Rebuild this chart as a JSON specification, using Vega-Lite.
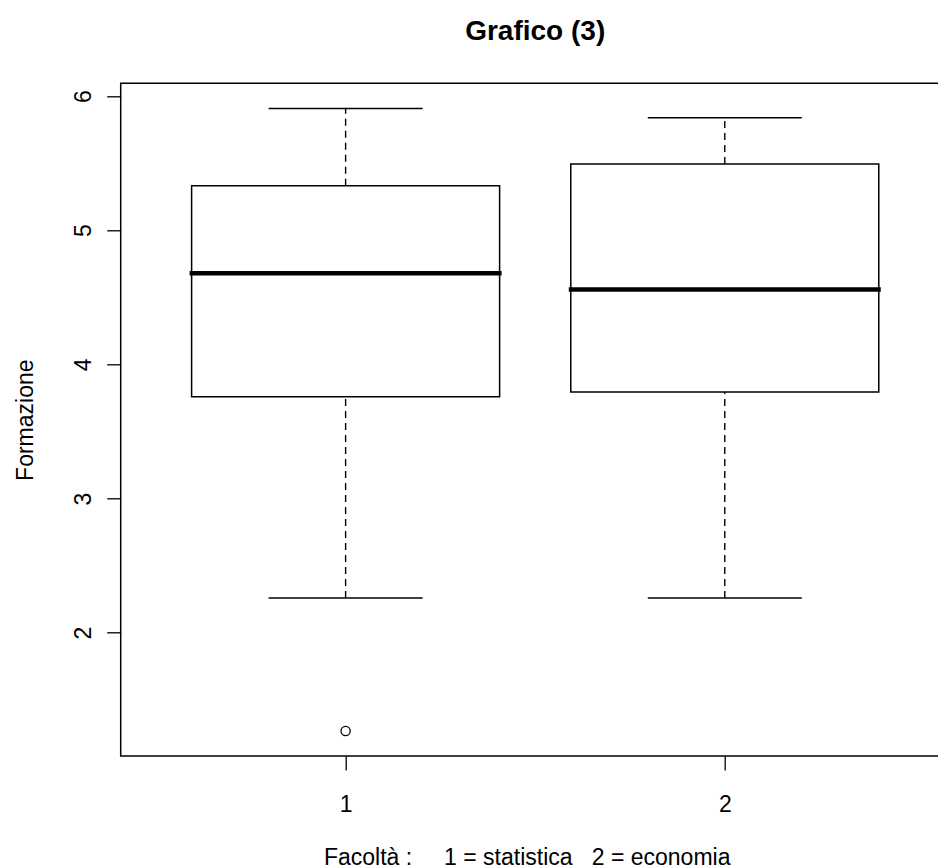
{
  "$schema": "https://vega.github.io/schema/vega-lite/v6.json",
  "autosize": "none",
  "padding": {"left": 120.7, "top": 83.3, "right": -11.7, "bottom": 112},
  "width": 829,
  "height": 672.7,
  "background": "white",
  "title": {
    "text": "Grafico (3)",
    "font": "Liberation Sans",
    "fontSize": 28,
    "fontWeight": "bold",
    "color": "black",
    "anchor": "middle",
    "frame": "group",
    "baseline": "alphabetic",
    "offset": 15
  },
  "config": {
    "view": {"stroke": "black", "strokeWidth": 1.5},
    "axis": {
      "domain": false,
      "grid": false,
      "labelFont": "Liberation Sans",
      "labelFontSize": 23,
      "labelColor": "black",
      "tickColor": "black",
      "tickWidth": 1.3,
      "tickSize": 14,
      "titleFont": "Liberation Sans",
      "titleFontSize": 23,
      "titleFontWeight": "normal",
      "titleColor": "black",
      "labelOverlap": false,
      "labelBound": false,
      "labelFlush": false
    }
  },
  "datasets": {
    "boxes": [
      {"g": 1, "lo": 2.259, "q1": 3.759, "med": 4.679, "q3": 5.331, "hi": 5.908},
      {"g": 2, "lo": 2.259, "q1": 3.794, "med": 4.559, "q3": 5.493, "hi": 5.838}
    ],
    "outliers": [
      {"g": 1, "v": 1.267}
    ]
  },
  "layer": [
    {
      "data": {"name": "boxes"},
      "mark": {"type": "rule", "color": "black", "strokeWidth": 1.4, "strokeDash": [7, 5]},
      "encoding": {
        "x": {
          "field": "g", "type": "quantitative",
          "scale": {"domain": [0.42, 2.58], "nice": false, "zero": false},
          "axis": {
            "values": [1, 2],
            "format": "d",
            "labelBaseline": "alphabetic",
            "labelPadding": 41,
            "title": "Facoltà :\u00a0\u00a0\u00a0\u00a0 1 = statistica\u00a0\u00a0 2 = economia",
            "titleX": 406,
            "titleY": 108,
            "titleAlign": "center",
            "titleBaseline": "alphabetic",
            "titleAnchor": null
          }
        },
        "y": {
          "field": "q3", "type": "quantitative",
          "scale": {"domain": [1.081, 6.095], "nice": false, "zero": false},
          "axis": {
            "values": [2, 3, 4, 5, 6],
            "format": "d",
            "labelAngle": -90,
            "labelAlign": "center",
            "labelBaseline": "alphabetic",
            "labelPadding": 16,
            "title": "Formazione",
            "titleAngle": -90,
            "titleX": -88.5,
            "titleY": 336.4,
            "titleAlign": "center",
            "titleBaseline": "alphabetic",
            "titleAnchor": null
          }
        },
        "y2": {"field": "hi"}
      }
    },
    {
      "data": {"name": "boxes"},
      "mark": {"type": "rule", "color": "black", "strokeWidth": 1.4, "strokeDash": [7, 5]},
      "encoding": {
        "x": {"field": "g", "type": "quantitative"},
        "y": {"field": "lo", "type": "quantitative"},
        "y2": {"field": "q1"}
      }
    },
    {
      "data": {"name": "boxes"},
      "mark": {"type": "bar", "width": 308, "fill": "white", "stroke": "black", "strokeWidth": 1.5},
      "encoding": {
        "x": {"field": "g", "type": "quantitative"},
        "y": {"field": "q1", "type": "quantitative"},
        "y2": {"field": "q3"}
      }
    },
    {
      "data": {"name": "boxes"},
      "mark": {"type": "tick", "orient": "horizontal", "color": "black", "size": 312, "thickness": 4.5, "opacity": 1},
      "encoding": {
        "x": {"field": "g", "type": "quantitative"},
        "y": {"field": "med", "type": "quantitative"}
      }
    },
    {
      "data": {"name": "boxes"},
      "mark": {"type": "tick", "orient": "horizontal", "color": "black", "size": 154, "thickness": 1.5, "opacity": 1},
      "encoding": {
        "x": {"field": "g", "type": "quantitative"},
        "y": {"field": "hi", "type": "quantitative"}
      }
    },
    {
      "data": {"name": "boxes"},
      "mark": {"type": "tick", "orient": "horizontal", "color": "black", "size": 154, "thickness": 1.5, "opacity": 1},
      "encoding": {
        "x": {"field": "g", "type": "quantitative"},
        "y": {"field": "lo", "type": "quantitative"}
      }
    },
    {
      "data": {"name": "outliers"},
      "mark": {"type": "point", "shape": "circle", "filled": false, "color": "black", "size": 85, "strokeWidth": 1.3, "opacity": 1},
      "encoding": {
        "x": {"field": "g", "type": "quantitative"},
        "y": {"field": "v", "type": "quantitative"}
      }
    }
  ]
}
